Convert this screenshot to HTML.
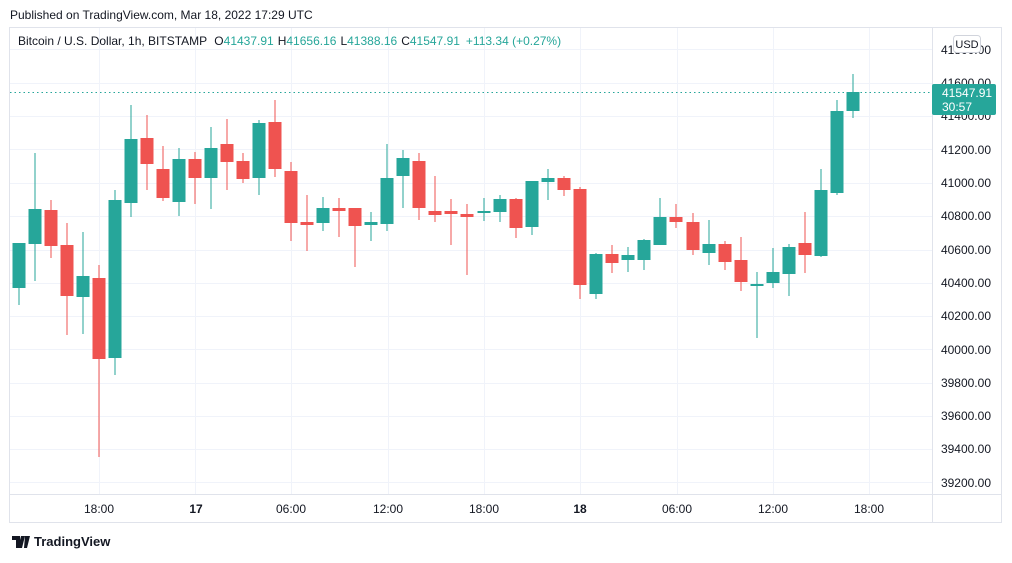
<!DOCTYPE html>
<html><head><meta charset="utf-8"><style>
html,body{margin:0;padding:0;background:#fff;}
body{width:1012px;height:558px;overflow:hidden;font-family:"Liberation Sans",sans-serif;}
</style></head><body>
<svg width="1012" height="558" xmlns="http://www.w3.org/2000/svg" font-family="Liberation Sans, sans-serif">
<rect width="1012" height="558" fill="#fff"/>
<text x="10" y="19" font-size="12" fill="#131722">Published on TradingView.com, Mar 18, 2022 17:29 UTC</text>
<rect x="9.5" y="27.5" width="992" height="495" fill="none" stroke="#e0e3eb"/>
<line x1="932.5" y1="28" x2="932.5" y2="522" stroke="#e0e3eb"/>
<line x1="10" y1="494.5" x2="1002" y2="494.5" stroke="#e0e3eb"/>
<g stroke="#f0f3fa" stroke-width="1">
<line x1="10" x2="932" y1="49.5" y2="49.5"/><line x1="10" x2="932" y1="83.5" y2="83.5"/><line x1="10" x2="932" y1="116.5" y2="116.5"/><line x1="10" x2="932" y1="149.5" y2="149.5"/><line x1="10" x2="932" y1="183.5" y2="183.5"/><line x1="10" x2="932" y1="216.5" y2="216.5"/><line x1="10" x2="932" y1="250.5" y2="250.5"/><line x1="10" x2="932" y1="283.5" y2="283.5"/><line x1="10" x2="932" y1="316.5" y2="316.5"/><line x1="10" x2="932" y1="349.5" y2="349.5"/><line x1="10" x2="932" y1="383.5" y2="383.5"/><line x1="10" x2="932" y1="416.5" y2="416.5"/><line x1="10" x2="932" y1="449.5" y2="449.5"/><line x1="10" x2="932" y1="482.5" y2="482.5"/>
<line y1="28" y2="494" x1="99.5" x2="99.5"/><line y1="28" y2="494" x1="195.5" x2="195.5"/><line y1="28" y2="494" x1="291.5" x2="291.5"/><line y1="28" y2="494" x1="388.5" x2="388.5"/><line y1="28" y2="494" x1="484.5" x2="484.5"/><line y1="28" y2="494" x1="580.5" x2="580.5"/><line y1="28" y2="494" x1="677.5" x2="677.5"/><line y1="28" y2="494" x1="773.5" x2="773.5"/><line y1="28" y2="494" x1="869.5" x2="869.5"/>
</g>
<line x1="10" x2="932" y1="92.5" y2="92.5" stroke="#26a69a" stroke-dasharray="1.5,3"/>
<path fill="#26a69a" d="
M18.5 243h1v62h-1z M12.5 243h13v45h-13z
M34.5 153h1v128h-1z M28.5 209h13v35h-13z
M82.5 232h1v102h-1z M76.5 276h13v21h-13z
M114.5 190h1v185h-1z M108.5 200h13v158h-13z
M130.5 105h1v112h-1z M124.5 139h13v64h-13z
M178.5 148h1v68h-1z M172.5 159h13v43h-13z
M210.5 127h1v82h-1z M204.5 148h13v30h-13z
M258.5 120h1v75h-1z M252.5 123h13v55h-13z
M322.5 197h1v34h-1z M316.5 208h13v15h-13z
M370.5 212h1v29h-1z M364.5 222h13v3h-13z
M386.5 144h1v87h-1z M380.5 178h13v46h-13z
M402.5 150h1v58h-1z M396.5 158h13v18h-13z
M483.5 198h1v23h-1z M477.5 211h13v2h-13z
M499.5 195h1v27h-1z M493.5 199h13v13h-13z
M531.5 181h1v54h-1z M525.5 181h13v46h-13z
M547.5 169h1v31h-1z M541.5 178h13v4h-13z
M595.5 253h1v46h-1z M589.5 254h13v40h-13z
M627.5 247h1v25h-1z M621.5 255h13v5h-13z
M643.5 239h1v31h-1z M637.5 240h13v20h-13z
M659.5 198h1v47h-1z M653.5 217h13v28h-13z
M708.5 220h1v45h-1z M702.5 244h13v9h-13z
M756.5 272h1v66h-1z M750.5 284h13v2h-13z
M772.5 248h1v40h-1z M766.5 272h13v11h-13z
M788.5 244h1v52h-1z M782.5 247h13v27h-13z
M820.5 169h1v88h-1z M814.5 190h13v66h-13z
M836.5 100h1v95h-1z M830.5 111h13v82h-13z
M852.5 74h1v44h-1z M846.5 92h13v19h-13z"/>
<path fill="#ef5350" d="
M50.5 200h1v58h-1z M44.5 210h13v36h-13z
M66.5 223h1v112h-1z M60.5 245h13v51h-13z
M98.5 265h1v192h-1z M92.5 278h13v81h-13z
M146.5 115h1v75h-1z M140.5 138h13v26h-13z
M162.5 146h1v55h-1z M156.5 169h13v29h-13z
M194.5 152h1v52h-1z M188.5 159h13v19h-13z
M226.5 119h1v71h-1z M220.5 144h13v18h-13z
M242.5 153h1v30h-1z M236.5 161h13v18h-13z
M274.5 100h1v77h-1z M268.5 122h13v47h-13z
M290.5 162h1v79h-1z M284.5 171h13v52h-13z
M306.5 195h1v56h-1z M300.5 222h13v3h-13z
M338.5 198h1v39h-1z M332.5 208h13v3h-13z
M354.5 208h1v59h-1z M348.5 208h13v18h-13z
M418.5 153h1v67h-1z M412.5 161h13v47h-13z
M434.5 176h1v46h-1z M428.5 211h13v4h-13z
M450.5 199h1v46h-1z M444.5 211h13v3h-13z
M466.5 204h1v71h-1z M460.5 214h13v3h-13z
M515.5 198h1v40h-1z M509.5 199h13v29h-13z
M563.5 176h1v20h-1z M557.5 178h13v12h-13z
M579.5 187h1v112h-1z M573.5 189h13v96h-13z
M611.5 245h1v28h-1z M605.5 254h13v9h-13z
M675.5 204h1v24h-1z M669.5 217h13v5h-13z
M692.5 213h1v42h-1z M686.5 222h13v28h-13z
M724.5 241h1v29h-1z M718.5 244h13v18h-13z
M740.5 237h1v54h-1z M734.5 260h13v22h-13z
M804.5 212h1v61h-1z M798.5 243h13v12h-13z"/>
<text x="18" y="45" font-size="12" fill="#131722">Bitcoin / U.S. Dollar, 1h, BITSTAMP <tspan dx="4">O</tspan><tspan fill="#26a69a">41437.91</tspan><tspan dx="4">H</tspan><tspan fill="#26a69a">41656.16</tspan><tspan dx="4">L</tspan><tspan fill="#26a69a">41388.16</tspan><tspan dx="4">C</tspan><tspan fill="#26a69a">41547.91</tspan><tspan dx="6" fill="#26a69a">+113.34 (+0.27%)</tspan></text>
<g font-size="12" fill="#131722" text-anchor="end">
<text x="991" y="54">41800.00</text><text x="991" y="87">41600.00</text><text x="991" y="120">41400.00</text><text x="991" y="154">41200.00</text><text x="991" y="187">41000.00</text><text x="991" y="220">40800.00</text><text x="991" y="254">40600.00</text><text x="991" y="287">40400.00</text><text x="991" y="320">40200.00</text><text x="991" y="354">40000.00</text><text x="991" y="387">39800.00</text><text x="991" y="420">39600.00</text><text x="991" y="453">39400.00</text><text x="991" y="487">39200.00</text>
</g>
<rect x="953.5" y="35.5" width="27" height="17" rx="3" fill="#fff" stroke="#d1d4dc"/>
<text x="967" y="48" font-size="11" fill="#131722" text-anchor="middle">USD</text>
<rect x="932" y="84" width="64" height="31" rx="2" fill="#26a69a"/>
<text x="942" y="97" font-size="12" fill="#fff">41547.91</text>
<text x="942" y="111" font-size="12" fill="#fff">30:57</text>
<g font-size="12" fill="#131722" text-anchor="middle">
<text x="99" y="513">18:00</text><text x="196" y="513" font-weight="bold">17</text><text x="291" y="513">06:00</text><text x="388" y="513">12:00</text><text x="484" y="513">18:00</text><text x="580" y="513" font-weight="bold">18</text><text x="677" y="513">06:00</text><text x="773" y="513">12:00</text><text x="869" y="513">18:00</text>
</g>
<g transform="translate(12,533)"><path d="M0 3h8v12h-4v-8h-4z M9 3h4l-3 12h-4z M13 3h5l-3 12h-3z" fill="#131722"/></g>
<text x="34" y="546" font-size="13" fill="#131722" font-weight="bold">TradingView</text>
</svg>
</body></html>
